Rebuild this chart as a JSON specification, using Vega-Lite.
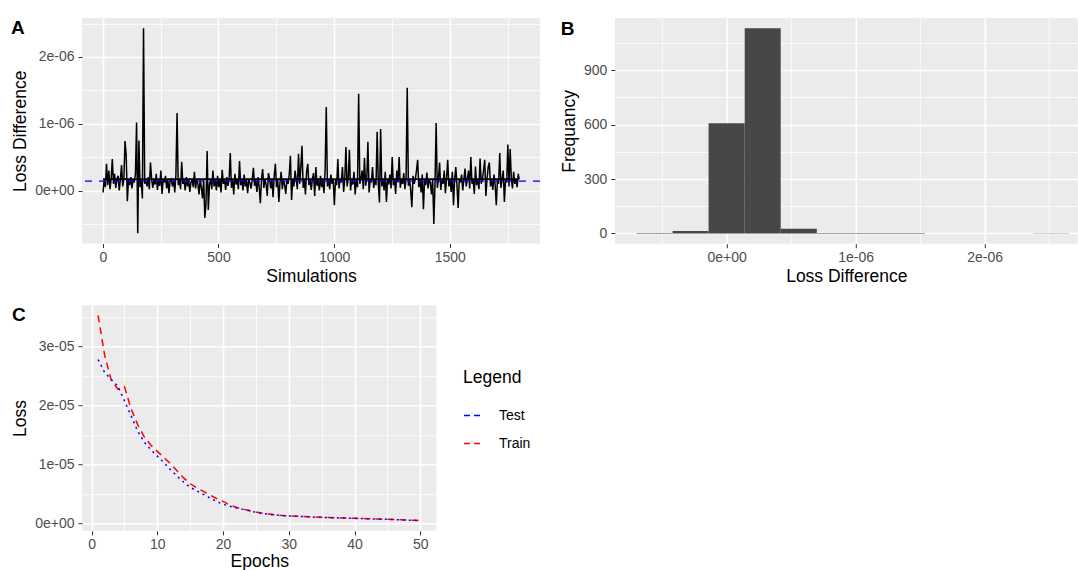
{
"$schema": "https://vega.github.io/schema/vega-lite/v6.json",
"background": "white",
"padding": {"left": 11, "top": 16, "right": 0, "bottom": 0},
"autosize": {"type": "pad"},
"config": {
  "view": {"fill": "#EBEBEB", "stroke": null},
  "font": "Liberation Sans",
  "axis": {"domain": false, "gridColor": "white", "tickColor": "#333333", "tickSize": 4, "tickWidth": 1, "labelColor": "#4D4D4D", "labelFont": "Liberation Sans", "labelFontSize": 14, "titleFont": "Liberation Sans", "titleFontSize": 17.5, "titleFontWeight": "normal", "titleColor": "black", "labelPadding": 3, "titlePadding": 3, "labelOverlap": false, "labelFlush": false, "labelBound": false},
  "axisY": {"labelPadding": 4, "titlePadding": 5},
  "title": {"font": "Liberation Sans", "fontSize": 19, "fontWeight": "bold", "color": "black", "anchor": "start", "frame": "group", "baseline": "alphabetic", "offset": 0}
},
"datasets": {
  "sim": [
{"s":1,"v":-3e-8},{"s":6,"v":17e-8},{"s":11,"v":5e-8},{"s":16,"v":40e-8},{"s":21,"v":8e-8},{"s":26,"v":30e-8},{"s":31,"v":2e-8},{"s":36,"v":17e-8},{"s":41,"v":47e-8},{"s":46,"v":10e-8},{"s":51,"v":25e-8},{"s":56,"v":4e-8},{"s":61,"v":17e-8},{"s":66,"v":22e-8},{"s":71,"v":0},{"s":76,"v":17e-8},{"s":81,"v":38e-8},{"s":86,"v":6e-8},{"s":91,"v":17e-8},{"s":96,"v":74e-8},
{"s":101,"v":53e-8},{"s":106,"v":-16e-8},{"s":111,"v":17e-8},{"s":116,"v":8e-8},{"s":121,"v":20e-8},{"s":126,"v":3e-8},{"s":131,"v":17e-8},{"s":136,"v":12e-8},{"s":141,"v":25e-8},{"s":146,"v":102e-8},{"s":151,"v":-64e-8},{"s":156,"v":75e-8},{"s":161,"v":5e-8},{"s":166,"v":17e-8},{"s":171,"v":-12e-8},{"s":176,"v":243e-8},{"s":181,"v":10e-8},{"s":186,"v":17e-8},{"s":191,"v":6e-8},{"s":196,"v":20e-8},
{"s":201,"v":2e-8},{"s":206,"v":42e-8},{"s":211,"v":17e-8},{"s":216,"v":4e-8},{"s":221,"v":17e-8},{"s":226,"v":9e-8},{"s":231,"v":25e-8},{"s":236,"v":1e-8},{"s":241,"v":17e-8},{"s":246,"v":7e-8},{"s":251,"v":30e-8},{"s":256,"v":-5e-8},{"s":261,"v":17e-8},{"s":266,"v":12e-8},{"s":271,"v":22e-8},{"s":276,"v":3e-8},{"s":281,"v":17e-8},{"s":286,"v":-4e-8},{"s":291,"v":15e-8},{"s":296,"v":17e-8},
{"s":301,"v":6e-8},{"s":306,"v":17e-8},{"s":311,"v":-3e-8},{"s":316,"v":24e-8},{"s":321,"v":116e-8},{"s":326,"v":8e-8},{"s":331,"v":17e-8},{"s":336,"v":2e-8},{"s":341,"v":43e-8},{"s":346,"v":10e-8},{"s":351,"v":17e-8},{"s":356,"v":0},{"s":361,"v":20e-8},{"s":366,"v":6e-8},{"s":371,"v":17e-8},{"s":376,"v":-2e-8},{"s":381,"v":12e-8},{"s":386,"v":17e-8},{"s":391,"v":5e-8},{"s":396,"v":28e-8},
{"s":401,"v":3e-8},{"s":406,"v":17e-8},{"s":411,"v":10e-8},{"s":416,"v":-6e-8},{"s":421,"v":17e-8},{"s":426,"v":4e-8},{"s":431,"v":-12e-8},{"s":436,"v":17e-8},{"s":441,"v":-41e-8},{"s":446,"v":-20e-8},{"s":451,"v":59e-8},{"s":456,"v":-29e-8},{"s":461,"v":8e-8},{"s":466,"v":17e-8},{"s":471,"v":2e-8},{"s":476,"v":30e-8},{"s":481,"v":6e-8},{"s":486,"v":17e-8},{"s":491,"v":0},{"s":496,"v":22e-8},
{"s":501,"v":5e-8},{"s":506,"v":17e-8},{"s":511,"v":-3e-8},{"s":516,"v":31e-8},{"s":521,"v":10e-8},{"s":526,"v":17e-8},{"s":531,"v":1e-8},{"s":536,"v":20e-8},{"s":541,"v":7e-8},{"s":546,"v":17e-8},{"s":551,"v":56e-8},{"s":556,"v":4e-8},{"s":561,"v":17e-8},{"s":566,"v":-6e-8},{"s":571,"v":25e-8},{"s":576,"v":9e-8},{"s":581,"v":17e-8},{"s":586,"v":2e-8},{"s":591,"v":44e-8},{"s":596,"v":8e-8},
{"s":601,"v":17e-8},{"s":606,"v":0},{"s":611,"v":24e-8},{"s":616,"v":6e-8},{"s":621,"v":17e-8},{"s":626,"v":-4e-8},{"s":631,"v":17e-8},{"s":636,"v":11e-8},{"s":641,"v":3e-8},{"s":646,"v":17e-8},{"s":651,"v":34e-8},{"s":656,"v":7e-8},{"s":661,"v":17e-8},{"s":666,"v":-2e-8},{"s":671,"v":20e-8},{"s":676,"v":5e-8},{"s":681,"v":-19e-8},{"s":686,"v":17e-8},{"s":691,"v":32e-8},{"s":696,"v":4e-8},
{"s":701,"v":17e-8},{"s":706,"v":9e-8},{"s":711,"v":-8e-8},{"s":716,"v":26e-8},{"s":721,"v":17e-8},{"s":726,"v":3e-8},{"s":731,"v":17e-8},{"s":736,"v":-10e-8},{"s":741,"v":22e-8},{"s":746,"v":40e-8},{"s":751,"v":5e-8},{"s":756,"v":17e-8},{"s":761,"v":-17e-8},{"s":766,"v":12e-8},{"s":771,"v":28e-8},{"s":776,"v":2e-8},{"s":781,"v":17e-8},{"s":786,"v":8e-8},{"s":791,"v":-5e-8},{"s":796,"v":17e-8},
{"s":801,"v":10e-8},{"s":806,"v":24e-8},{"s":811,"v":52e-8},{"s":816,"v":-14e-8},{"s":821,"v":17e-8},{"s":826,"v":6e-8},{"s":831,"v":30e-8},{"s":836,"v":17e-8},{"s":841,"v":2e-8},{"s":846,"v":55e-8},{"s":851,"v":10e-8},{"s":856,"v":35e-8},{"s":861,"v":67e-8},{"s":866,"v":4e-8},{"s":871,"v":17e-8},{"s":876,"v":-6e-8},{"s":881,"v":28e-8},{"s":886,"v":40e-8},{"s":891,"v":8e-8},{"s":896,"v":17e-8},
{"s":901,"v":1e-8},{"s":906,"v":17e-8},{"s":911,"v":26e-8},{"s":916,"v":-8e-8},{"s":921,"v":35e-8},{"s":926,"v":7e-8},{"s":931,"v":17e-8},{"s":936,"v":0},{"s":941,"v":22e-8},{"s":946,"v":5e-8},{"s":951,"v":17e-8},{"s":956,"v":-4e-8},{"s":961,"v":30e-8},{"s":966,"v":125e-8},{"s":971,"v":6e-8},{"s":976,"v":17e-8},{"s":981,"v":2e-8},{"s":986,"v":24e-8},{"s":991,"v":10e-8},{"s":996,"v":17e-8},
{"s":1001,"v":-22e-8},{"s":1006,"v":17e-8},{"s":1011,"v":8e-8},{"s":1016,"v":47e-8},{"s":1021,"v":3e-8},{"s":1026,"v":17e-8},{"s":1031,"v":12e-8},{"s":1036,"v":35e-8},{"s":1041,"v":-2e-8},{"s":1046,"v":17e-8},{"s":1051,"v":65e-8},{"s":1056,"v":6e-8},{"s":1061,"v":17e-8},{"s":1066,"v":61e-8},{"s":1071,"v":0},{"s":1076,"v":17e-8},{"s":1081,"v":9e-8},{"s":1086,"v":28e-8},{"s":1091,"v":-6e-8},{"s":1096,"v":17e-8},
{"s":1101,"v":5e-8},{"s":1106,"v":145e-8},{"s":1111,"v":10e-8},{"s":1116,"v":17e-8},{"s":1121,"v":30e-8},{"s":1126,"v":2e-8},{"s":1131,"v":49e-8},{"s":1136,"v":7e-8},{"s":1141,"v":17e-8},{"s":1146,"v":73e-8},{"s":1151,"v":-3e-8},{"s":1156,"v":17e-8},{"s":1161,"v":12e-8},{"s":1166,"v":35e-8},{"s":1171,"v":4e-8},{"s":1176,"v":17e-8},{"s":1181,"v":8e-8},{"s":1186,"v":88e-8},{"s":1191,"v":10e-8},{"s":1196,"v":-18e-8},
{"s":1201,"v":92e-8},{"s":1206,"v":6e-8},{"s":1211,"v":17e-8},{"s":1216,"v":0},{"s":1221,"v":28e-8},{"s":1226,"v":-17e-8},{"s":1231,"v":17e-8},{"s":1236,"v":9e-8},{"s":1241,"v":24e-8},{"s":1246,"v":3e-8},{"s":1251,"v":50e-8},{"s":1256,"v":8e-8},{"s":1261,"v":17e-8},{"s":1266,"v":-5e-8},{"s":1271,"v":30e-8},{"s":1276,"v":12e-8},{"s":1281,"v":50e-8},{"s":1286,"v":4e-8},{"s":1291,"v":17e-8},{"s":1296,"v":10e-8},
{"s":1301,"v":26e-8},{"s":1306,"v":2e-8},{"s":1311,"v":17e-8},{"s":1316,"v":154e-8},{"s":1321,"v":7e-8},{"s":1326,"v":17e-8},{"s":1331,"v":0},{"s":1336,"v":-25e-8},{"s":1341,"v":22e-8},{"s":1346,"v":10e-8},{"s":1351,"v":17e-8},{"s":1356,"v":30e-8},{"s":1361,"v":46e-8},{"s":1366,"v":5e-8},{"s":1371,"v":17e-8},{"s":1376,"v":-3e-8},{"s":1381,"v":24e-8},{"s":1386,"v":-28e-8},{"s":1391,"v":17e-8},{"s":1396,"v":8e-8},
{"s":1401,"v":27e-8},{"s":1406,"v":3e-8},{"s":1411,"v":17e-8},{"s":1416,"v":12e-8},{"s":1421,"v":-6e-8},{"s":1426,"v":17e-8},{"s":1431,"v":-50e-8},{"s":1436,"v":9e-8},{"s":1441,"v":101e-8},{"s":1446,"v":4e-8},{"s":1451,"v":17e-8},{"s":1456,"v":42e-8},{"s":1461,"v":1e-8},{"s":1466,"v":17e-8},{"s":1471,"v":10e-8},{"s":1476,"v":30e-8},{"s":1481,"v":-4e-8},{"s":1486,"v":17e-8},{"s":1491,"v":46e-8},{"s":1496,"v":6e-8},
{"s":1501,"v":17e-8},{"s":1506,"v":-2e-8},{"s":1511,"v":28e-8},{"s":1516,"v":-22e-8},{"s":1521,"v":17e-8},{"s":1526,"v":35e-8},{"s":1531,"v":8e-8},{"s":1536,"v":-26e-8},{"s":1541,"v":17e-8},{"s":1546,"v":12e-8},{"s":1551,"v":24e-8},{"s":1556,"v":0},{"s":1561,"v":17e-8},{"s":1566,"v":33e-8},{"s":1571,"v":6e-8},{"s":1576,"v":17e-8},{"s":1581,"v":30e-8},{"s":1586,"v":3e-8},{"s":1591,"v":50e-8},{"s":1596,"v":10e-8},
{"s":1601,"v":17e-8},{"s":1606,"v":-5e-8},{"s":1611,"v":36e-8},{"s":1616,"v":8e-8},{"s":1621,"v":17e-8},{"s":1626,"v":2e-8},{"s":1631,"v":48e-8},{"s":1636,"v":10e-8},{"s":1641,"v":17e-8},{"s":1646,"v":30e-8},{"s":1651,"v":46e-8},{"s":1656,"v":-8e-8},{"s":1661,"v":17e-8},{"s":1666,"v":35e-8},{"s":1671,"v":42e-8},{"s":1676,"v":6e-8},{"s":1681,"v":17e-8},{"s":1686,"v":1e-8},{"s":1691,"v":24e-8},{"s":1696,"v":9e-8},
{"s":1701,"v":-22e-8},{"s":1706,"v":17e-8},{"s":1711,"v":10e-8},{"s":1716,"v":56e-8},{"s":1721,"v":4e-8},{"s":1726,"v":17e-8},{"s":1731,"v":30e-8},{"s":1736,"v":-17e-8},{"s":1741,"v":17e-8},{"s":1746,"v":12e-8},{"s":1751,"v":69e-8},{"s":1756,"v":6e-8},{"s":1761,"v":62e-8},{"s":1766,"v":17e-8},{"s":1771,"v":3e-8},{"s":1776,"v":28e-8},{"s":1781,"v":10e-8},{"s":1786,"v":17e-8},{"s":1791,"v":5e-8},{"s":1796,"v":25e-8},{"s":1800,"v":17e-8}
  ],
  "base": [{"s0": 1, "s1": 1800, "v": 1.7e-7}],
  "mean": [{"m": 1.42e-7}],
  "hist": [
    {"lo": -0.699e-6, "hi": -0.419e-6, "n": 2},
    {"lo": -0.419e-6, "hi": -0.140e-6, "n": 13},
    {"lo": -0.140e-6, "hi": 0.140e-6, "n": 607},
    {"lo": 0.140e-6, "hi": 0.419e-6, "n": 1131},
    {"lo": 0.419e-6, "hi": 0.699e-6, "n": 26},
    {"lo": 0.699e-6, "hi": 0.978e-6, "n": 3},
    {"lo": 0.978e-6, "hi": 1.258e-6, "n": 3},
    {"lo": 1.258e-6, "hi": 1.537e-6, "n": 2},
    {"lo": 2.375e-6, "hi": 2.655e-6, "n": 1}
  ],
  "epochs": [
{"e":1,"set":"Train","loss":3.53e-5},{"e":2,"set":"Train","loss":2.85e-5},{"e":3,"set":"Train","loss":2.43e-5},{"e":4,"set":"Train","loss":2.28e-5},{"e":5,"set":"Train","loss":2.32e-5},{"e":6,"set":"Train","loss":1.95e-5},{"e":7,"set":"Train","loss":1.68e-5},{"e":8,"set":"Train","loss":1.47e-5},{"e":9,"set":"Train","loss":1.33e-5},{"e":10,"set":"Train","loss":1.22e-5},
{"e":11,"set":"Train","loss":1.12e-5},{"e":12,"set":"Train","loss":1.01e-5},{"e":13,"set":"Train","loss":0.89e-5},{"e":14,"set":"Train","loss":0.77e-5},{"e":15,"set":"Train","loss":0.67e-5},{"e":16,"set":"Train","loss":0.60e-5},{"e":17,"set":"Train","loss":0.54e-5},{"e":18,"set":"Train","loss":0.48e-5},{"e":19,"set":"Train","loss":0.42e-5},{"e":20,"set":"Train","loss":0.37e-5},
{"e":21,"set":"Train","loss":0.31e-5},{"e":22,"set":"Train","loss":0.27e-5},{"e":23,"set":"Train","loss":0.24e-5},{"e":24,"set":"Train","loss":0.215e-5},{"e":25,"set":"Train","loss":0.19e-5},{"e":26,"set":"Train","loss":0.17e-5},{"e":27,"set":"Train","loss":0.155e-5},{"e":28,"set":"Train","loss":0.14e-5},{"e":29,"set":"Train","loss":0.13e-5},{"e":30,"set":"Train","loss":0.125e-5},
{"e":31,"set":"Train","loss":0.12e-5},{"e":32,"set":"Train","loss":0.115e-5},{"e":33,"set":"Train","loss":0.11e-5},{"e":34,"set":"Train","loss":0.105e-5},{"e":35,"set":"Train","loss":0.10e-5},{"e":36,"set":"Train","loss":0.096e-5},{"e":37,"set":"Train","loss":0.093e-5},{"e":38,"set":"Train","loss":0.09e-5},{"e":39,"set":"Train","loss":0.087e-5},{"e":40,"set":"Train","loss":0.084e-5},
{"e":41,"set":"Train","loss":0.08e-5},{"e":42,"set":"Train","loss":0.077e-5},{"e":43,"set":"Train","loss":0.073e-5},{"e":44,"set":"Train","loss":0.07e-5},{"e":45,"set":"Train","loss":0.066e-5},{"e":46,"set":"Train","loss":0.062e-5},{"e":47,"set":"Train","loss":0.058e-5},{"e":48,"set":"Train","loss":0.054e-5},{"e":49,"set":"Train","loss":0.05e-5},{"e":50,"set":"Train","loss":0.046e-5},
{"e":1,"set":"Test","loss":2.78e-5},{"e":2,"set":"Test","loss":2.56e-5},{"e":3,"set":"Test","loss":2.44e-5},{"e":4,"set":"Test","loss":2.33e-5},{"e":5,"set":"Test","loss":2.08e-5},{"e":6,"set":"Test","loss":1.83e-5},{"e":7,"set":"Test","loss":1.57e-5},{"e":8,"set":"Test","loss":1.38e-5},{"e":9,"set":"Test","loss":1.25e-5},{"e":10,"set":"Test","loss":1.14e-5},
{"e":11,"set":"Test","loss":1.03e-5},{"e":12,"set":"Test","loss":0.91e-5},{"e":13,"set":"Test","loss":0.80e-5},{"e":14,"set":"Test","loss":0.70e-5},{"e":15,"set":"Test","loss":0.61e-5},{"e":16,"set":"Test","loss":0.55e-5},{"e":17,"set":"Test","loss":0.49e-5},{"e":18,"set":"Test","loss":0.43e-5},{"e":19,"set":"Test","loss":0.37e-5},{"e":20,"set":"Test","loss":0.32e-5},
{"e":21,"set":"Test","loss":0.29e-5},{"e":22,"set":"Test","loss":0.26e-5},{"e":23,"set":"Test","loss":0.235e-5},{"e":24,"set":"Test","loss":0.21e-5},{"e":25,"set":"Test","loss":0.185e-5},{"e":26,"set":"Test","loss":0.165e-5},{"e":27,"set":"Test","loss":0.15e-5},{"e":28,"set":"Test","loss":0.14e-5},{"e":29,"set":"Test","loss":0.13e-5},{"e":30,"set":"Test","loss":0.123e-5},
{"e":31,"set":"Test","loss":0.118e-5},{"e":32,"set":"Test","loss":0.113e-5},{"e":33,"set":"Test","loss":0.108e-5},{"e":34,"set":"Test","loss":0.103e-5},{"e":35,"set":"Test","loss":0.099e-5},{"e":36,"set":"Test","loss":0.095e-5},{"e":37,"set":"Test","loss":0.092e-5},{"e":38,"set":"Test","loss":0.089e-5},{"e":39,"set":"Test","loss":0.086e-5},{"e":40,"set":"Test","loss":0.083e-5},
{"e":41,"set":"Test","loss":0.079e-5},{"e":42,"set":"Test","loss":0.076e-5},{"e":43,"set":"Test","loss":0.072e-5},{"e":44,"set":"Test","loss":0.069e-5},{"e":45,"set":"Test","loss":0.065e-5},{"e":46,"set":"Test","loss":0.061e-5},{"e":47,"set":"Test","loss":0.057e-5},{"e":48,"set":"Test","loss":0.053e-5},{"e":49,"set":"Test","loss":0.049e-5},{"e":50,"set":"Test","loss":0.045e-5}
  ]
},
"columns": 2,
"align": "each",
"spacing": {"row": 61.2, "column": 74.8},
"bounds": "flush",
"concat": [
  {
    "width": 458, "height": 225.5,
    "title": {"text": "A", "dx": -71, "dy": 25.4},
    "resolve": {"axis": {"x": "independent", "y": "independent"}},
    "layer": [
      {
        "data": {"name": "sim"},
        "mark": {"type": "line", "color": "black", "strokeWidth": 1.5},
        "encoding": {
          "x": {"field": "s", "type": "quantitative", "title": "Simulations",
            "scale": {"domain": [-90, 1890], "nice": false, "zero": false},
            "axis": {"values": [0, 250, 500, 750, 1000, 1250, 1500, 1750],
              "gridWidth": {"condition": {"test": "datum.value % 500 === 0", "value": 1.6}, "value": 0.8},
              "tickOpacity": {"condition": {"test": "datum.value % 500 === 0", "value": 1}, "value": 0},
              "labelExpr": "datum.value % 500 === 0 ? format(datum.value, 'd') : ''"}},
          "y": {"field": "v", "type": "quantitative", "title": "Loss Difference",
            "scale": {"domain": [-0.7935e-6, 2.5835e-6], "nice": false, "zero": false},
            "axis": {"values": [-5e-7, 0, 5e-7, 1e-6, 1.5e-6, 2e-6, 2.5e-6],
              "gridWidth": {"condition": {"test": "abs(datum.value*1e6 - round(datum.value*1e6)) < 1e-6", "value": 1.6}, "value": 0.8},
              "tickOpacity": {"condition": {"test": "abs(datum.value*1e6 - round(datum.value*1e6)) < 1e-6", "value": 1}, "value": 0},
              "labelExpr": "abs(datum.value*1e6 - round(datum.value*1e6)) < 1e-6 ? (round(datum.value*1e6) === 0 ? '0e+00' : round(datum.value*1e6) + 'e-06') : ''"}}
        }
      },
      {
        "data": {"name": "base"},
        "mark": {"type": "rule", "color": "black", "strokeWidth": 1.6},
        "encoding": {
          "x": {"field": "s0", "type": "quantitative", "axis": null},
          "x2": {"field": "s1"},
          "y": {"field": "v", "type": "quantitative", "axis": null}
        }
      },
      {
        "data": {"name": "mean"},
        "mark": {"type": "rule", "color": "#0000FF", "strokeWidth": 1.3, "strokeDash": [7, 7]},
        "encoding": {
          "y": {"field": "m", "type": "quantitative", "axis": null}
        }
      }
    ]
  },
  {
    "width": 463, "height": 225.7,
    "title": {"text": "B", "dx": -54, "dy": 25.4},
    "data": {"name": "hist"},
    "mark": {"type": "rect", "color": "#474747"},
    "encoding": {
      "x": {"field": "lo", "type": "quantitative", "title": "Loss Difference",
        "scale": {"domain": [-0.867e-6, 2.722e-6], "nice": false, "zero": false},
        "axis": {"values": [-5e-7, 0, 5e-7, 1e-6, 1.5e-6, 2e-6, 2.5e-6],
          "gridWidth": {"condition": {"test": "abs(datum.value*1e6 - round(datum.value*1e6)) < 1e-6", "value": 1.6}, "value": 0.8},
          "tickOpacity": {"condition": {"test": "abs(datum.value*1e6 - round(datum.value*1e6)) < 1e-6", "value": 1}, "value": 0},
          "labelExpr": "abs(datum.value*1e6 - round(datum.value*1e6)) < 1e-6 ? (round(datum.value*1e6) === 0 ? '0e+00' : round(datum.value*1e6) + 'e-06') : ''"}},
      "x2": {"field": "hi"},
      "y": {"field": "n", "type": "quantitative", "title": "Frequancy",
        "scale": {"domain": [-56.5, 1187.5], "nice": false, "zero": false},
        "axis": {"values": [0, 150, 300, 450, 600, 750, 900, 1050],
          "gridWidth": {"condition": {"test": "datum.value % 300 === 0", "value": 1.6}, "value": 0.8},
          "tickOpacity": {"condition": {"test": "datum.value % 300 === 0", "value": 1}, "value": 0},
          "labelExpr": "datum.value % 300 === 0 ? datum.label : ''"}},
      "y2": {"datum": 0}
    }
  },
  {
    "width": 354.4, "height": 225.6,
    "title": {"text": "C", "dx": -70, "dy": 24},
    "data": {"name": "epochs"},
    "mark": {"type": "line", "strokeWidth": 1.5, "strokeCap": "butt"},
    "encoding": {
      "x": {"field": "e", "type": "quantitative", "title": "Epochs",
        "axis": {"values": [0, 5, 10, 15, 20, 25, 30, 35, 40, 45, 50],
          "titlePadding": 1,
          "gridWidth": {"condition": {"test": "datum.value % 10 === 0", "value": 1.6}, "value": 0.8},
          "tickOpacity": {"condition": {"test": "datum.value % 10 === 0", "value": 1}, "value": 0},
          "labelExpr": "datum.value % 10 === 0 ? datum.label : ''"},
        "scale": {"domain": [-1.45, 52.45], "nice": false, "zero": false}},
      "y": {"field": "loss", "type": "quantitative", "title": "Loss",
        "scale": {"domain": [-0.129e-5, 3.704e-5], "nice": false, "zero": false},
        "axis": {"values": [0, 0.5e-5, 1e-5, 1.5e-5, 2e-5, 2.5e-5, 3e-5, 3.5e-5],
          "gridWidth": {"condition": {"test": "abs(datum.value*1e5 - round(datum.value*1e5)) < 1e-6", "value": 1.6}, "value": 0.8},
          "tickOpacity": {"condition": {"test": "abs(datum.value*1e5 - round(datum.value*1e5)) < 1e-6", "value": 1}, "value": 0},
          "labelExpr": "abs(datum.value*1e5 - round(datum.value*1e5)) < 1e-6 ? (round(datum.value*1e5) === 0 ? '0e+00' : round(datum.value*1e5) + 'e-05') : ''"}},
      "color": {"field": "set", "type": "nominal",
        "scale": {"domain": ["Test", "Train"], "range": ["#0000FF", "#FF0000"]},
        "legend": {"title": "Legend", "orient": "none", "legendX": 381, "legendY": 351,
          "symbolType": "stroke", "symbolSize": 400, "symbolStrokeWidth": 1.6, "symbolDash": [6, 4],
          "labelFont": "Liberation Sans", "labelFontSize": 14, "labelColor": "black",
          "titleFont": "Liberation Sans", "titleFontSize": 17.5, "titleFontWeight": "normal", "titleColor": "black",
          "titlePadding": 18, "rowPadding": 10, "labelOffset": 14}},
      "strokeDash": {"condition": {"test": "datum.set === 'Test'", "value": [2, 4]}, "value": [7, 5]}
    }
  }
]
}
